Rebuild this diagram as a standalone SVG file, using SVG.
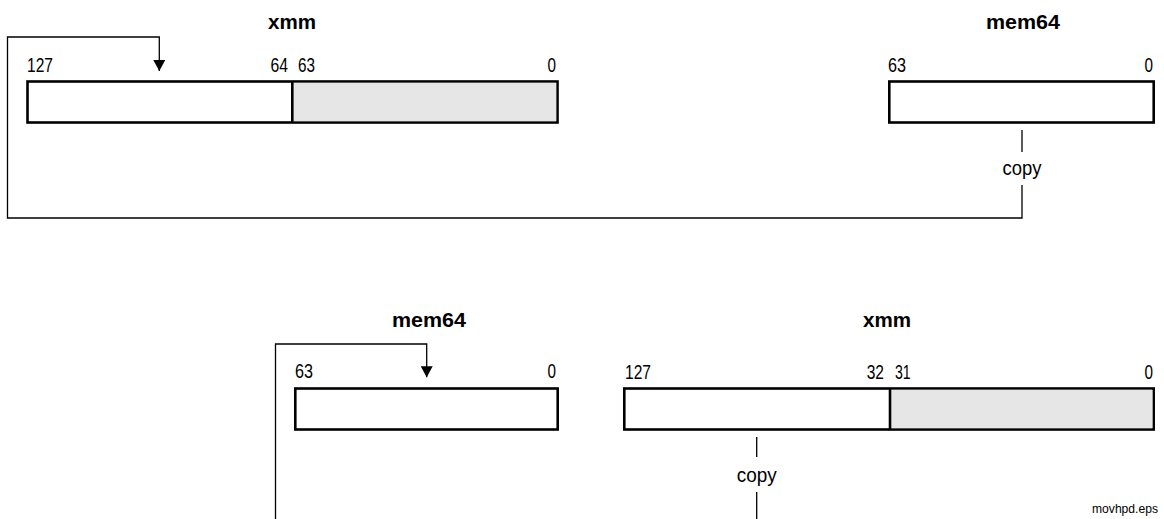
<svg xmlns="http://www.w3.org/2000/svg" width="1164" height="519" viewBox="0 0 1164 519">
<style>
.bg{fill:#ffffff}
.box{fill:#ffffff;stroke:#000;stroke-width:2.6}
.gray{fill:#e6e6e6}
.div{stroke:#000;stroke-width:2.6}
.conn{fill:none;stroke:#000;stroke-width:1.3}
.title{font-family:"Liberation Sans",Arial,sans-serif;font-size:20px;font-weight:bold;fill:#000}
.lbl{font-family:"Liberation Sans",Arial,sans-serif;font-size:19.5px;fill:#000}
.note{font-family:"Liberation Sans",Arial,sans-serif;font-size:13px;fill:#000}
</style>
<defs>
<marker id="ah" markerWidth="11" markerHeight="12" refX="11" refY="6" orient="auto" markerUnits="userSpaceOnUse" viewBox="0 0 11 12">
<path d="M0,0 L11,6 L0,12 Z" fill="#000"/>
</marker>
</defs>
<rect class="bg" x="0" y="0" width="1164" height="519"/>

<g id="top-xmm">
<text class="title" x="292" y="29" text-anchor="middle" textLength="48" lengthAdjust="spacingAndGlyphs">xmm</text>
<rect class="box" x="27.5" y="81.5" width="530" height="41"/>
<rect class="gray" x="292.3" y="82.8" width="263.9" height="38.4"/>
<line class="div" x1="292.3" y1="81.5" x2="292.3" y2="122.5"/>
<text class="lbl" x="27" y="72" textLength="26" lengthAdjust="spacingAndGlyphs">127</text>
<text class="lbl" x="288" y="72" text-anchor="end" textLength="17.5" lengthAdjust="spacingAndGlyphs">64</text>
<text class="lbl" x="298" y="72" textLength="17" lengthAdjust="spacingAndGlyphs">63</text>
<text class="lbl" x="556" y="72" text-anchor="end" textLength="8.5" lengthAdjust="spacingAndGlyphs">0</text>
</g>

<g id="top-mem64">
<text class="title" x="1023" y="29" text-anchor="middle" textLength="74" lengthAdjust="spacingAndGlyphs">mem64</text>
<rect class="box" x="889.3" y="81.5" width="264.4" height="41"/>
<text class="lbl" x="888" y="72" textLength="18" lengthAdjust="spacingAndGlyphs">63</text>
<text class="lbl" x="1153" y="72" text-anchor="end" textLength="8.5" lengthAdjust="spacingAndGlyphs">0</text>
</g>

<g id="bottom-mem64">
<text class="title" x="429" y="327" text-anchor="middle" textLength="74" lengthAdjust="spacingAndGlyphs">mem64</text>
<rect class="box" x="295.3" y="388.5" width="262.4" height="41"/>
<text class="lbl" x="295" y="378" textLength="18" lengthAdjust="spacingAndGlyphs">63</text>
<text class="lbl" x="556" y="378" text-anchor="end" textLength="8.5" lengthAdjust="spacingAndGlyphs">0</text>
</g>

<g id="bottom-xmm">
<text class="title" x="887" y="327" text-anchor="middle" textLength="48" lengthAdjust="spacingAndGlyphs">xmm</text>
<rect class="box" x="624.3" y="388.5" width="529.4" height="41"/>
<rect class="gray" x="890" y="389.8" width="262.4" height="38.4"/>
<line class="div" x1="890" y1="388.5" x2="890" y2="429.5"/>
<text class="lbl" x="625" y="379" textLength="26" lengthAdjust="spacingAndGlyphs">127</text>
<text class="lbl" x="884" y="379" text-anchor="end" textLength="17.3" lengthAdjust="spacingAndGlyphs">32</text>
<text class="lbl" x="895" y="379" textLength="15.7" lengthAdjust="spacingAndGlyphs">31</text>
<text class="lbl" x="1153" y="379" text-anchor="end" textLength="8.5" lengthAdjust="spacingAndGlyphs">0</text>
</g>

<g id="connectors">
<polyline class="conn" points="1022,185 1022,218 7.5,218 7.5,37 159.3,37 159.3,71" marker-end="url(#ah)"/>
<line class="conn" x1="1022" y1="130" x2="1022" y2="152"/>
<text class="lbl" x="1022" y="175" text-anchor="middle" textLength="39" lengthAdjust="spacingAndGlyphs">copy</text>
<polyline class="conn" points="756.7,492 756.7,519"/>
<polyline class="conn" points="275.5,519 275.5,344 426.7,344 426.7,377.3" marker-end="url(#ah)"/>
<line class="conn" x1="756.7" y1="437" x2="756.7" y2="457"/>
<text class="lbl" x="756.7" y="482" text-anchor="middle" textLength="40" lengthAdjust="spacingAndGlyphs">copy</text>
</g>

<text class="note" x="1158" y="513" text-anchor="end" textLength="66" lengthAdjust="spacingAndGlyphs">movhpd.eps</text>
</svg>
